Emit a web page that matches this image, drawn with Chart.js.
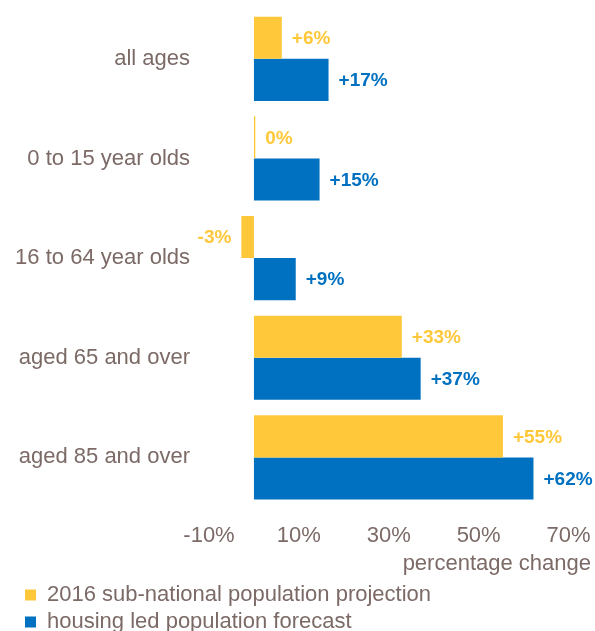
<!DOCTYPE html>
<html>
<head>
<meta charset="utf-8">
<script src="https://cdn.jsdelivr.net/npm/chart.js@4"></script>
<style>
  html, body { margin: 0; padding: 0; background: #fff; overflow: hidden; }
  #wrap { position: relative; width: 595px; height: 631px; }
  canvas { display: block; }
</style>
</head>
<body>
<div id="wrap"><canvas id="chart"></canvas></div>
<script>
const categories = ["all ages", "0 to 15 year olds", "16 to 64 year olds", "aged 65 and over", "aged 85 and over"]
const projection = [6.2, 0.3, -2.8, 32.9, 55.4]
const forecast = [16.6, 14.6, 9.3, 37.1, 62.2]
const xTicks = [-10, 10, 30, 50, 70]
const seriesNames = ["2016 sub-national population projection", "housing led population forecast"]

const textColor = "#7b6a66"
const yellow = "#FFC83A"
const blue = "#0070C0"
const font = "'Liberation Sans', Arial, sans-serif"

// value labels at the end of each bar
const barLabels = {
  id: "barLabels",
  afterDatasetsDraw(chart) {
    const ctx = chart.ctx
    ctx.save()
    ctx.font = "bold 19px " + font
    ctx.textBaseline = "middle"
    chart.data.datasets.forEach((ds, i) => {
      const meta = chart.getDatasetMeta(i)
      ctx.fillStyle = ds.backgroundColor
      meta.data.forEach((el, j) => {
        const v = Math.round(ds.data[j])
        const txt = (v > 0 ? "+" : "") + v + "%"
        if (ds.data[j] >= 0) {
          ctx.textAlign = "left"
          ctx.fillText(txt, el.x + 10, el.y + 1)
        } else {
          ctx.textAlign = "right"
          ctx.fillText(txt, el.x - 10, el.y + 1)
        }
      })
    })
    ctx.restore()
  }
}

// legend sits a bit in from the left edge
const legendShift = {
  id: "legendShift",
  afterLayout(chart) {
    chart.legend.left += 20
    chart.legend.right += 20
    chart.legend.top += 2
    chart.legend.bottom += 2
  }
}

new Chart(document.getElementById("chart"), {
  type: "bar",
  data: {
    labels: categories,
    datasets: [
      { label: seriesNames[0], data: projection, backgroundColor: yellow },
      { label: seriesNames[1], data: forecast, backgroundColor: blue }
    ]
  },
  options: {
    indexAxis: "y",
    responsive: true,
    maintainAspectRatio: false,
    animation: false,
    categoryPercentage: 0.845,
    barPercentage: 1.0,
    layout: { autoPadding: false, padding: { top: 9, left: 0, right: 4, bottom: -10 } },
    scales: {
      x: {
        min: -10,
        max: 75,
        afterBuildTicks: (axis) => { axis.ticks = xTicks.map(v => ({ value: v })) },
        afterFit: (scale) => { scale.paddingLeft = 0; scale.paddingRight = 0 },
        grid: { display: false, drawTicks: false },
        border: { display: false },
        ticks: {
          color: textColor,
          font: { family: font, size: 22 },
          padding: 16,
          maxRotation: 0,
          callback: (v) => v + "%"
        },
        title: {
          display: true,
          text: "percentage change",
          align: "end",
          color: textColor,
          font: { family: font, size: 22 },
          padding: { top: -15, bottom: 0 }
        }
      },
      y: {
        afterFit: (scale) => {
          scale.width = 209
          scale.paddingTop = 0
          scale.paddingBottom = 0
        },
        grid: { display: false, drawTicks: false },
        border: { display: false },
        ticks: {
          color: textColor,
          font: { family: font, size: 22 },
          padding: 19
        }
      }
    },
    plugins: {
      legend: {
        position: "bottom",
        align: "start",
        labels: {
          color: textColor,
          font: { family: font, size: 22 },
          boxWidth: 11,
          boxHeight: 11,
          padding: 5
        }
      },
      tooltip: { enabled: false }
    }
  },
  plugins: [barLabels, legendShift]
})
</script>
</body>
</html>
